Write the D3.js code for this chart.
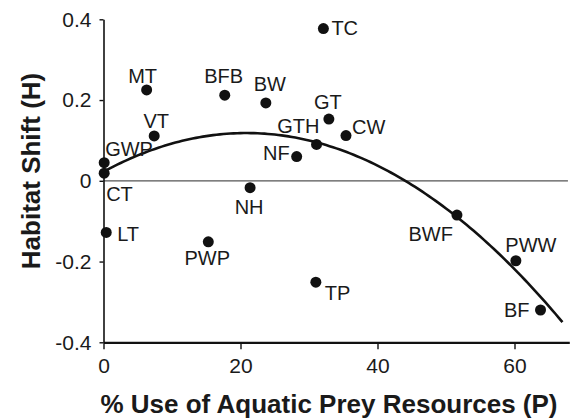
<!DOCTYPE html>
<html lang="en">
<head>
<meta charset="UTF-8">
<title>Habitat shift</title>
<script src="https://d3js.org/d3.v7.min.js"></script>
<style>
    body { margin: 0; background: #fff; }
    svg { display: block; font-family: "Liberation Sans", Arial, sans-serif; }
    .tick text { font-size: 21px; fill: #1a1a1a; }
    .lbl { font-size: 20px; fill: #1a1a1a; }
    .title { font-size: 26px; font-weight: bold; fill: #1a1a1a; }
</style>
</head>
<body>
<svg width="587" height="419"></svg>
<script>
    // sites
    var names = ["TC", "MT", "BFB", "BW", "GT", "VT", "CW", "GTH", "GWP", "NF", "CT", "NH", "LT", "PWP", "BWF", "PWW", "TP", "BF"];
    var useP = [32.1, 6.3, 17.7, 23.7, 32.9, 7.4, 35.4, 31.1, 0.1, 28.2, 0.1, 21.4, 0.4, 15.3, 51.6, 60.2, 31.0, 63.8];
    var shiftH = [0.377, 0.225, 0.212, 0.193, 0.153, 0.111, 0.112, 0.090, 0.045, 0.060, 0.019, -0.017, -0.128, -0.151, -0.085, -0.198, -0.251, -0.320];

    // polynomial trendline H = a + bP + cP^2
    var trendCoef = [0.0225, 0.00918, -0.00022];
    var trendRange = [0, 67];

    var xTicks = [0, 20, 40, 60];
    var yTicks = [-0.4, -0.2, 0, 0.2, 0.4];
    var yTickLabels = ["-0.4", "-0.2", "0", "0.2", "0.4"];

    // where each label sits relative to its dot
    var labelPos = {
        TC: ["start", 8, 6], MT: ["middle", -4, -7], BFB: ["middle", -1, -12], BW: ["middle", 4, -12],
        GT: ["middle", -1, -10], VT: ["middle", 2, -8], CW: ["start", 6, -2], GTH: ["end", 3, -11],
        GWP: ["start", 1, -7], NF: ["end", -7, 3], CT: ["start", 2, 28], NH: ["middle", -1, 26],
        LT: ["start", 11, 9], PWP: ["middle", -1, 23], BWF: ["end", -4, 26], PWW: ["middle", 15, -9],
        TP: ["start", 9, 18], BF: ["end", -11, 7]
    };

    var data = names.map((n, i) => ({ name: n, p: useP[i], h: shiftH[i] }));

    var svg = d3.select("svg");
    var xScale = d3.scaleLinear().domain([0, 68]).range([103.5, 569.3]);
    var yScale = d3.scaleLinear().domain([-0.4, 0.4]).range([342.3, 19.3]);

    // zero line
    svg.append("line")
        .attr("x1", xScale(0)).attr("x2", xScale(67.8))
        .attr("y1", yScale(0)).attr("y2", yScale(0))
        .attr("stroke", "#555").attr("stroke-width", 1.2);

    var yAxis = d3.axisLeft(yScale).tickValues(yTicks).tickSize(4).tickSizeOuter(0).tickPadding(8)
        .tickFormat((d, i) => yTickLabels[i]);
    var xAxis = d3.axisBottom(xScale).tickValues(xTicks).tickSize(7).tickSizeOuter(0).tickPadding(9);

    var yG = svg.append("g").attr("transform", "translate(" + xScale(0) + ",0)").call(yAxis);
    var xG = svg.append("g").attr("transform", "translate(0," + yScale(-0.4) + ")").call(xAxis);
    yG.select(".domain").attr("stroke", "#111").attr("stroke-width", 1.6);
    xG.select(".domain").attr("stroke", "#111").attr("stroke-width", 2.2);
    svg.selectAll(".tick line").attr("stroke", "#111").attr("stroke-width", 1.4);
    svg.selectAll(".tick text").attr("font-family", null).attr("font-size", null);

    // trendline
    var trendPts = d3.range(trendRange[0], trendRange[1] + 0.01, 0.5)
        .map(p => [p, trendCoef[0] + trendCoef[1] * p + trendCoef[2] * p * p]);
    svg.append("path")
        .datum(trendPts)
        .attr("fill", "none").attr("stroke", "#111").attr("stroke-width", 2.6)
        .attr("d", d3.line().x(d => xScale(d[0])).y(d => yScale(d[1])));

    svg.selectAll("circle")
        .data(data)
        .enter()
        .append("circle")
        .attr("r", 5.5)
        .attr("fill", "#111")
        .attr("cx", d => xScale(d.p))
        .attr("cy", d => yScale(d.h));

    svg.selectAll("text.lbl")
        .data(data)
        .enter()
        .append("text")
        .attr("class", "lbl")
        .attr("text-anchor", d => labelPos[d.name][0])
        .attr("x", d => xScale(d.p) + labelPos[d.name][1])
        .attr("y", d => yScale(d.h) + labelPos[d.name][2])
        .text(d => d.name);

    svg.append("text").attr("class", "title")
        .attr("text-anchor", "middle")
        .attr("x", 329).attr("y", 413)
        .text("% Use of Aquatic Prey Resources (P)");

    svg.append("text").attr("class", "title")
        .attr("text-anchor", "middle")
        .attr("transform", "translate(40,171) rotate(-90)")
        .text("Habitat Shift (H)");
</script>
</body>
</html>
